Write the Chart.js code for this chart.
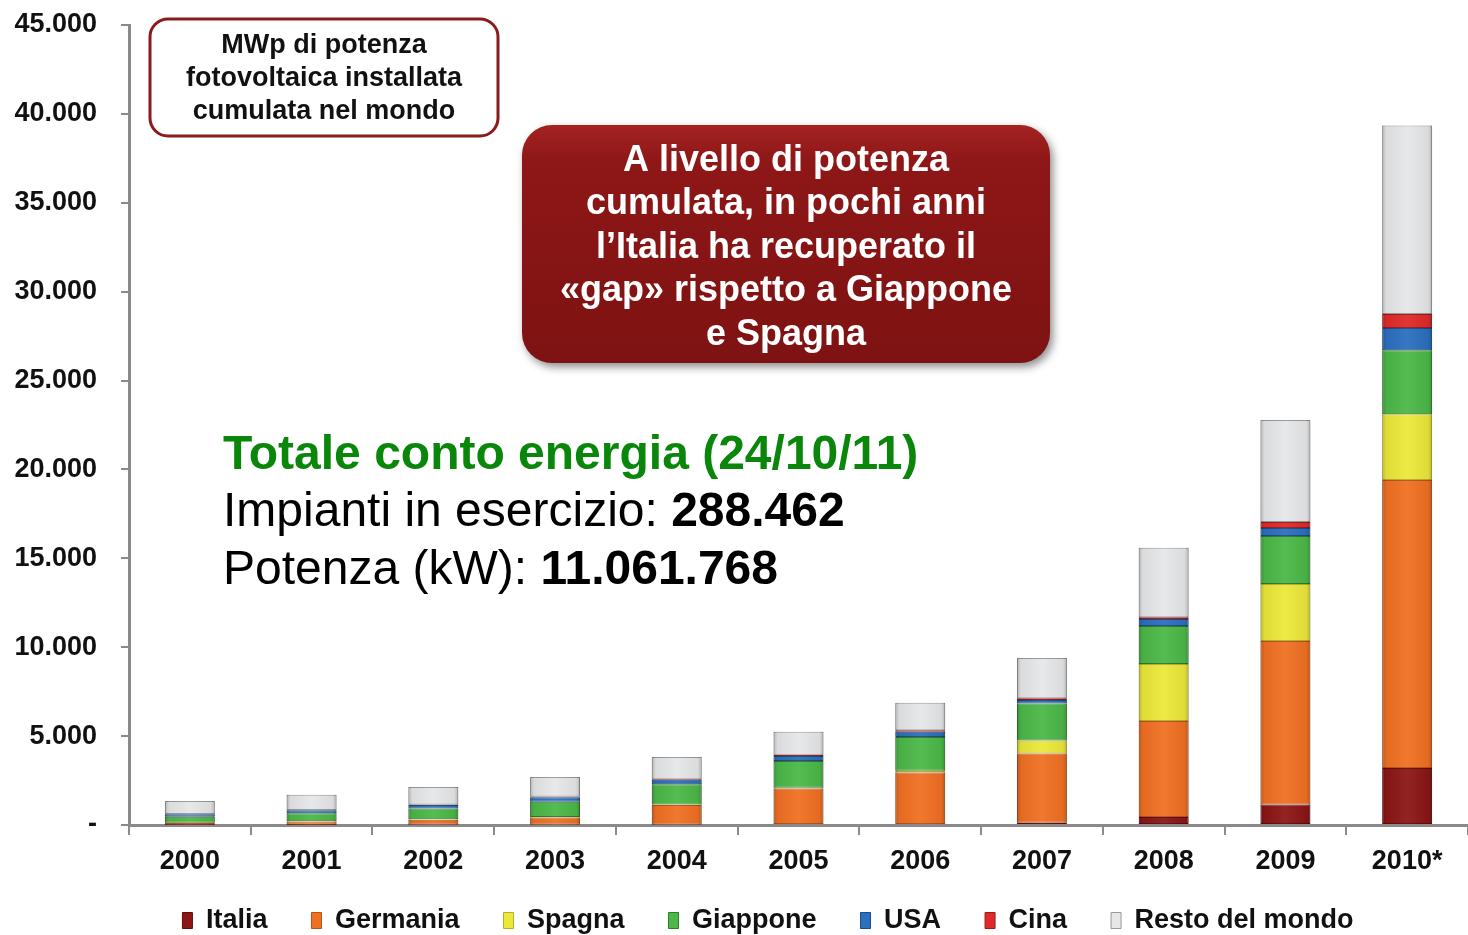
<!DOCTYPE html>
<html>
<head>
<meta charset="utf-8">
<script src="https://cdn.jsdelivr.net/npm/chart.js@4"></script>
<style>
  body { margin: 0; background: #fff; }
  canvas { display: block; }
</style>
</head>
<body>
<canvas id="pvChart" width="1468" height="935"></canvas>
<script>
// MWp cumulati per paese
var anni = ['2000', '2001', '2002', '2003', '2004', '2005', '2006', '2007', '2008', '2009', '2010*'];
var italia = [20, 20, 22, 26, 30, 50, 50, 120, 450, 1150, 3200];
var germania = [100, 180, 280, 400, 1100, 2000, 2900, 3900, 5400, 9200, 16200];
var spagna = [10, 10, 20, 30, 30, 50, 100, 730, 3200, 3200, 3700];
var giappone = [330, 450, 600, 850, 1130, 1500, 1900, 2080, 2140, 2700, 3600];
var usa = [140, 170, 210, 250, 250, 280, 300, 200, 400, 450, 1250];
var cina = [20, 20, 20, 50, 60, 70, 80, 100, 100, 350, 800];
var resto = [730, 850, 990, 1100, 1230, 1300, 1540, 2270, 3910, 5730, 10600];
var yTicks = [0, 5000, 10000, 15000, 20000, 25000, 30000, 35000, 40000, 45000];

var FONT = "'Liberation Sans', Arial, sans-serif";

function fmt(v) {
    if (v === 0) return '-';
    return String(v).replace(/\B(?=(\d{3})+(?!\d))/g, '.');
}

function serie(label, data, fill, edge) {
    return {
        label: label,
        data: data,
        backgroundColor: fill,
        borderColor: edge,
        borderWidth: 1,
        borderSkipped: false
    };
}

// legend keeps its wide item spacing but sits closer to the axis labels
var legendPlace = {
    id: 'legendPlace',
    beforeUpdate: function(chart) {
        var lg = chart.legend;
        if (lg && !lg._fitPatched) {
            var fit = lg.fit;
            lg.fit = function() {
                fit.apply(this, arguments);
                this.height = 54;
            };
            lg._fitPatched = true;
        }
    },
    afterLayout: function(chart) {
        var lg = chart.legend;
        if (!lg) return;
        lg.top = chart.chartArea.bottom + 38;
        lg.left += 34;
        lg.right += 34;
    }
};

// shading to give the bars a bit of a 3D look
var barShade = {
    id: 'barShade',
    afterDatasetsDraw: function(chart) {
        var ctx = chart.ctx;
        chart.data.datasets.forEach(function(ds, i) {
            chart.getDatasetMeta(i).data.forEach(function(bar) {
                var p = bar.getProps(['x', 'y', 'base', 'width'], true);
                var l = p.x - p.width / 2, r = p.x + p.width / 2;
                var g = ctx.createLinearGradient(l, 0, r, 0);
                g.addColorStop(0, 'rgba(0,0,0,0.22)');
                g.addColorStop(0.08, 'rgba(0,0,0,0.05)');
                g.addColorStop(0.5, 'rgba(255,255,255,0.06)');
                g.addColorStop(0.92, 'rgba(0,0,0,0.05)');
                g.addColorStop(1, 'rgba(0,0,0,0.22)');
                ctx.save();
                ctx.fillStyle = g;
                ctx.fillRect(l, Math.min(p.y, p.base), p.width, Math.abs(p.base - p.y));
                ctx.restore();
            });
        });
    }
};

// boxes and text notes on top of the chart
var notes = {
    id: 'notes',
    afterDraw: function(chart) {
        var ctx = chart.ctx;
        ctx.save();

        // box: unit description
        ctx.beginPath();
        ctx.roundRect(150, 19, 348, 117, 18);
        ctx.fillStyle = '#fff';
        ctx.fill();
        ctx.lineWidth = 3;
        ctx.strokeStyle = '#8b1a1a';
        ctx.stroke();
        ctx.fillStyle = '#111';
        ctx.font = 'bold 27px ' + FONT;
        ctx.textAlign = 'center';
        ctx.textBaseline = 'middle';
        ['MWp di potenza', 'fotovoltaica installata', 'cumulata nel mondo'].forEach(function(t, i) {
            ctx.fillText(t, 324, 46 + i * 33);
        });

        // red message box
        ctx.save();
        ctx.shadowColor = 'rgba(0,0,0,0.45)';
        ctx.shadowBlur = 8;
        ctx.shadowOffsetX = 3;
        ctx.shadowOffsetY = 4;
        var g = ctx.createLinearGradient(0, 125, 0, 363);
        g.addColorStop(0, '#a52222');
        g.addColorStop(0.15, '#8e1717');
        g.addColorStop(1, '#7e1212');
        ctx.beginPath();
        ctx.roundRect(522, 125, 528, 238, 30);
        ctx.fillStyle = g;
        ctx.fill();
        ctx.restore();
        ctx.fillStyle = '#fff';
        ctx.font = 'bold 36px ' + FONT;
        ['A livello di potenza', 'cumulata, in pochi anni', 'l\u2019Italia ha recuperato il',
         '\u00abgap\u00bb rispetto a Giappone', 'e Spagna'].forEach(function(t, i) {
            ctx.fillText(t, 786, 161 + i * 43.5);
        });

        // totals
        ctx.textAlign = 'left';
        ctx.fillStyle = '#0a870a';
        ctx.font = 'bold 48px ' + FONT;
        ctx.fillText('Totale conto energia (24/10/11)', 223, 456);
        var rows = [['Impianti in esercizio: ', '288.462', 513], ['Potenza (kW): ', '11.061.768', 571]];
        rows.forEach(function(r) {
            ctx.fillStyle = '#000';
            ctx.font = '48px ' + FONT;
            ctx.fillText(r[0], 223, r[2]);
            var w = ctx.measureText(r[0]).width;
            ctx.font = 'bold 48px ' + FONT;
            ctx.fillText(r[1], 223 + w, r[2]);
        });
        ctx.restore();
    }
};

var ctx = document.getElementById('pvChart').getContext('2d');
new Chart(ctx, {
    type: 'bar',
    data: {
        labels: anni,
        datasets: [
            serie('Italia', italia, '#8c1616', '#5e0c0c'),
            serie('Germania', germania, '#f07022', '#b8521a'),
            serie('Spagna', spagna, '#ece83a', '#b5b02a'),
            serie('Giappone', giappone, '#4bb848', '#2f7a2d'),
            serie('USA', usa, '#2b6fbf', '#1c4b82'),
            serie('Cina', cina, '#e02a2a', '#9a1a1a'),
            serie('Resto del mondo', resto, '#e6e7e8', '#9a9a9a')
        ]
    },
    options: {
        responsive: false,
        animation: false,
        events: [],
        layout: { padding: { top: 25, right: 0, bottom: 0, left: 0 } },
        datasets: {
            bar: { categoryPercentage: 1, barPercentage: 0.41 }
        },
        scales: {
            x: {
                stacked: true,
                grid: { drawOnChartArea: false, offset: true, tickLength: 10, color: '#8a8a8a', lineWidth: 2 },
                border: { color: '#8a8a8a', width: 3 },
                ticks: { color: '#111', padding: 10, font: { family: FONT, size: 27, weight: 'bold' } },
                afterFit: function(scale) {
                    scale.height = 56;
                    scale.paddingLeft = 0;
                    scale.paddingRight = 0;
                }
            },
            y: {
                stacked: true,
                min: 0,
                max: 45000,
                afterBuildTicks: function(scale) {
                    scale.ticks = yTicks.map(function(v) { return { value: v }; });
                },
                grid: { drawOnChartArea: false, tickLength: 8, color: '#8a8a8a', lineWidth: 2 },
                border: { color: '#8a8a8a', width: 3 },
                ticks: {
                    color: '#111',
                    padding: 24,
                    font: { family: FONT, size: 27, weight: 'bold' },
                    callback: function(v) { return fmt(v); }
                },
                afterFit: function(scale) {
                    scale.width = 129;
                    scale.paddingTop = 0;
                    scale.paddingBottom = 0;
                }
            }
        },
        plugins: {
            legend: {
                position: 'bottom',
                labels: {
                    boxWidth: 10,
                    boxHeight: 16,
                    padding: 44,
                    color: '#111',
                    font: { family: FONT, size: 27, weight: 'bold' }
                }
            },
            tooltip: { enabled: false }
        }
    },
    plugins: [legendPlace, barShade, notes]
});
</script>
</body>
</html>
